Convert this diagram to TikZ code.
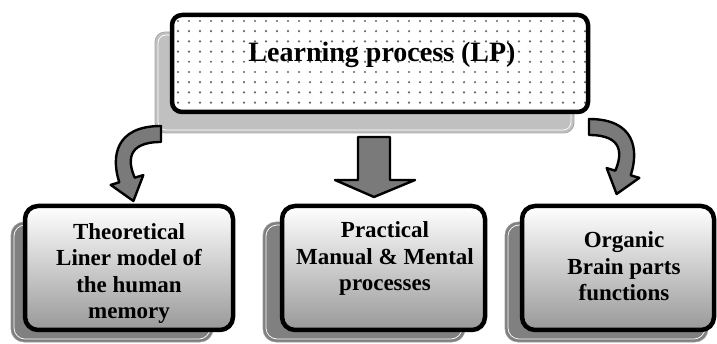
\documentclass[tikz,border=0pt]{standalone}
\usepackage{fontspec}
\setmainfont{Liberation Serif}
\definecolor{shlight}{HTML}{C0C0C0}
\definecolor{shlightedge}{HTML}{A8A8A8}
\definecolor{shdark}{HTML}{808080}
\definecolor{arrowfill}{HTML}{7A7A7A}
\tikzset{
  boxborder/.style={draw=black, line width=4.5pt},
  innerline/.style={draw=white, line width=0.7pt},
  bigarrow/.style={fill=arrowfill, draw=black, line width=2.4pt, line join=round},
  boxtext/.style={font=\bfseries\fontsize{23}{26.5}\selectfont, align=center, inner sep=0pt},
}
\begin{document}
\begin{tikzpicture}[x=1pt,y=-1pt]
\useasboundingbox (0,0) rectangle (717,344);

% ---- top box ----
\filldraw[fill=shlight, draw=shlightedge, line width=0.8pt, rounded corners=10pt] (155,32) rectangle (574,133);
\draw[innerline, rounded corners=8pt] (158,35) rectangle (571,130);
\fill[white, rounded corners=10pt] (172,15) rectangle (588,112);
\begin{scope}
  \clip[rounded corners=10pt] (172,15) rectangle (588,112);
  \foreach \i in {0,...,38} {
    \foreach \j in {0,...,9} {
      \fill[black!60] (178+\i*11, 21+\j*10.2) circle (1.2pt);
    }
  }
\end{scope}
\draw[boxborder, rounded corners=10pt] (172,15) rectangle (588,112);
\node[font=\bfseries\fontsize{28}{32}\selectfont, anchor=base, inner sep=0pt] (lp) at (382,62) {Learning process (LP)};

% ---- bottom shadows ----
\foreach \a/\b/\c/\d in {11/222/213/342, 263/222/465/342, 505/222/708/342} {
  \filldraw[fill=shdark, draw=shdark!80, line width=0.6pt, rounded corners=13pt] (\a,\b) rectangle (\c,\d);
  \draw[innerline, rounded corners=11pt] (\a+3,\b+3) rectangle (\c-3,\d-3);
}

% ---- bottom boxes ----
\foreach \a/\c in {25/233, 282/485, 522/714} {
  \shade[top color=white, bottom color=black!40, rounded corners=13pt] (\a,206) rectangle (\c,330);
  \draw[boxborder, rounded corners=13pt] (\a,206) rectangle (\c,330);
}

\node[boxtext] (theo) at (129,273.5) {Theoretical\\Liner model of\\the human\\memory};
\node[boxtext] (prac) at (385,258.5) {Practical\\Manual \& Mental\\processes};
\node[boxtext] (org) at (624,266.5) {Organic\\Brain parts\\functions};

% ---- arrows ----
\filldraw[bigarrow] (161,126) .. controls (115,126) and (111,157) .. (119.3,182.3)
  -- (110.7,184.9) -- (133.4,201) -- (143.3,175.1) -- (134.7,177.7)
  .. controls (128,162) and (126,142) .. (161,142) -- cycle;
\filldraw[bigarrow] (358,137) -- (390,137) -- (390,180) -- (415,180) -- (374,197) -- (335,180) -- (358,180) -- cycle;
\filldraw[bigarrow] (589,119) .. controls (635,119) and (639,150) .. (630.7,175.3)
  -- (639.3,177.9) -- (616.6,194) -- (606.7,168.1) -- (615.3,170.7)
  .. controls (622,155) and (624,135) .. (589,135) -- cycle;
\end{tikzpicture}
\end{document}
